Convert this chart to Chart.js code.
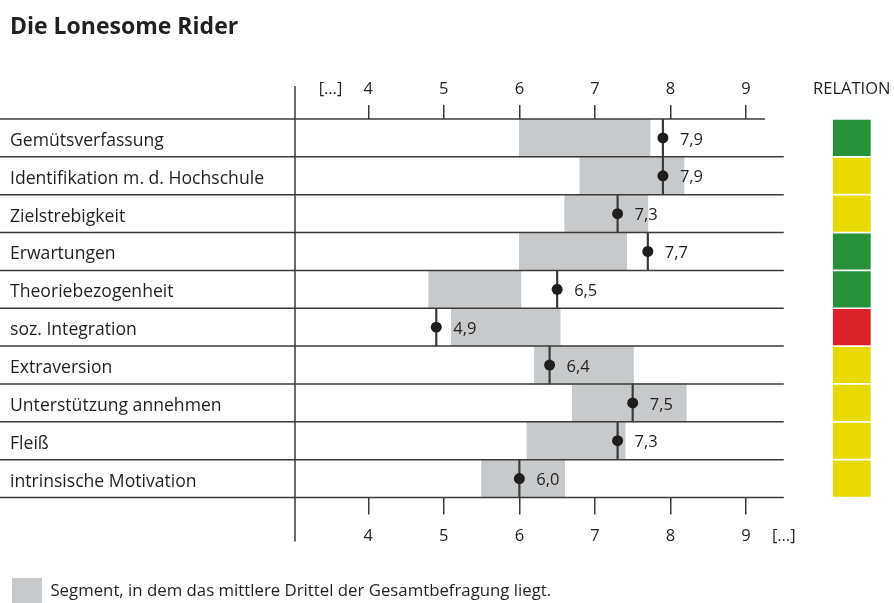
<!DOCTYPE html>
<html>
<head>
<meta charset="utf-8">
<script src="https://cdn.jsdelivr.net/npm/chart.js@4.4.0/dist/chart.umd.min.js"></script>
<style>
	body { margin: 0; background: #fff; }
	#wrap { width: 894px; height: 603px; }
</style>
</head>
<body>
<div id="wrap"><canvas id="chart"></canvas></div>
<script>
// data
let labels = ["Gemütsverfassung", "Identifikation m. d. Hochschule", "Zielstrebigkeit", "Erwartungen",
	"Theoriebezogenheit", "soz. Integration", "Extraversion", "Unterstützung annehmen", "Fleiß",
	"intrinsische Motivation"];
let segStart = [6.0, 6.8, 6.6, 6.0, 4.8, 5.1, 6.2, 6.7, 6.1, 5.5];
let segEnd = [7.73, 8.18, 7.7, 7.42, 6.02, 6.54, 7.51, 8.21, 7.4, 6.6];
let scores = [7.9, 7.9, 7.3, 7.7, 6.5, 4.9, 6.4, 7.5, 7.3, 6.0];
let relation = ["green", "yellow", "yellow", "green", "green", "red", "yellow", "yellow", "yellow", "yellow"];
let scaleTicks = [4, 5, 6, 7, 8, 9];
let legendText = "Segment, in dem das mittlere Drittel der Gesamtbefragung liegt.";

let font = "'Open Sans', 'Noto Sans', sans-serif";
let textColor = "#231f20";
let lineColor = "#3a3a3a";
let greyColor = "#c8c9ca";
let relColors = { green: "#27913a", yellow: "#e8da00", red: "#dc2229" };

// extra tick positions for the bracket labels
let xMin = 3.03, xMax = 10.8;
let topExtra = { 3.5: "[…]", 10.4: "RELATION" };
let bottomExtra = { 9.5: "[…]" };

function fmt(v) {
	return v.toFixed(1).replace(".", ",");
}

let rowLines = {
	id: "rowLines",
	afterDatasetsDraw(chart) {
		let ctx = chart.ctx;
		let area = chart.chartArea;
		let x = chart.scales.x;
		let step = (area.bottom - area.top) / labels.length;
		ctx.save();
		ctx.strokeStyle = lineColor;
		ctx.lineWidth = 1.5;
		for (let i = 0; i <= labels.length; i++) {
			let yy = area.top + i * step;
			let end = i === 0 ? x.getPixelForValue(9.25) : x.getPixelForValue(9.5);
			ctx.beginPath();
			ctx.moveTo(0, yy);
			ctx.lineTo(end, yy);
			ctx.stroke();
		}
		ctx.beginPath();
		ctx.moveTo(area.left, area.top - 33);
		ctx.lineTo(area.left, area.bottom + 44);
		ctx.stroke();

		// value labels next to the dots
		let meta = chart.getDatasetMeta(3);
		ctx.font = "16.5px " + font;
		ctx.fillStyle = textColor;
		ctx.textBaseline = "middle";
		meta.data.forEach(function (pt, i) {
			ctx.fillText(fmt(scores[i]), pt.x + 17, pt.y + 2);
		});
		ctx.restore();
	}
};

function tickSetter(extra) {
	return function (scale) {
		let t = scaleTicks.map(v => ({ value: v }));
		for (let k in extra) t.push({ value: parseFloat(k) });
		t.sort((a, b) => a.value - b.value);
		scale.ticks = t;
	};
}

function fitter(h) {
	return function (scale) {
		scale.height = h;
		scale.paddingLeft = 0;
		scale.paddingRight = 0;
	};
}

function tickColor(c) {
	return scaleTicks.includes(c.tick.value) ? lineColor : "rgba(0,0,0,0)";
}

new Chart(document.getElementById("chart"), {
	type: "bar",
	data: {
		labels: labels,
		datasets: [
			{
				label: legendText,
				data: labels.map((l, i) => [segStart[i], segEnd[i]]),
				backgroundColor: greyColor,
				barPercentage: 1,
				categoryPercentage: 1,
				grouped: false,
				order: 3
			}, {
				label: "RELATION",
				data: labels.map(() => [10.15, 10.65]),
				backgroundColor: relation.map(r => relColors[r]),
				barPercentage: 1,
				categoryPercentage: 0.955,
				grouped: false,
				order: 2
			}, {
				label: "stem",
				data: scores.map(v => [v - 0.01, v + 0.01]),
				backgroundColor: lineColor,
				barPercentage: 1,
				categoryPercentage: 1,
				grouped: false,
				order: 1
			}, {
				type: "scatter",
				label: "Wert",
				data: scores.map((v, i) => ({ x: v, y: labels[i] })),
				backgroundColor: "#1e1e1e",
				borderWidth: 0,
				pointRadius: 5.5,
				order: 0
			}
		]
	},
	options: {
		indexAxis: "y",
		responsive: true,
		maintainAspectRatio: false,
		animation: false,
		events: [],
		layout: { padding: { left: 10, right: 12, top: 0, bottom: -12 } },
		scales: {
			x: {
				type: "linear",
				position: "top",
				min: xMin,
				max: xMax,
				afterBuildTicks: tickSetter(topExtra),
				afterFit: fitter(67.4),
				grid: { drawOnChartArea: false, tickLength: 14, lineWidth: 1.5, tickColor: tickColor },
				border: { display: false },
				ticks: {
					autoSkip: false,
					maxRotation: 0,
					padding: 6,
					color: textColor,
					font: { family: font, size: 16.5 },
					callback: v => topExtra[v] || String(v)
				}
			},
			x2: {
				type: "linear",
				position: "bottom",
				min: xMin,
				max: xMax,
				afterBuildTicks: tickSetter(bottomExtra),
				afterFit: fitter(78.5),
				grid: { drawOnChartArea: false, tickLength: 17, lineWidth: 1.5, tickColor: tickColor },
				border: { display: false },
				ticks: {
					autoSkip: false,
					maxRotation: 0,
					padding: 12,
					color: textColor,
					font: { family: font, size: 16.5 },
					callback: v => bottomExtra[v] || String(v)
				}
			},
			y: {
				type: "category",
				afterFit: function (scale) { scale.width = 285; },
				grid: { display: false },
				border: { display: false },
				ticks: {
					crossAlign: "far",
					labelOffset: 3,
					color: textColor,
					font: { family: font, size: 17.6 }
				}
			}
		},
		plugins: {
			title: {
				display: true,
				text: "Die Lonesome Rider",
				align: "start",
				color: textColor,
				font: { family: font, size: 23, weight: "bold" },
				padding: { top: 14, bottom: 10 }
			},
			legend: {
				display: true,
				position: "bottom",
				align: "start",
				labels: {
					filter: item => item.datasetIndex === 0,
					boxWidth: 30,
					boxHeight: 27,
					padding: 2,
					color: textColor,
					font: { family: font, size: 16.8 }
				}
			},
			tooltip: { enabled: false }
		}
	},
	plugins: [rowLines]
});
</script>
</body>
</html>
